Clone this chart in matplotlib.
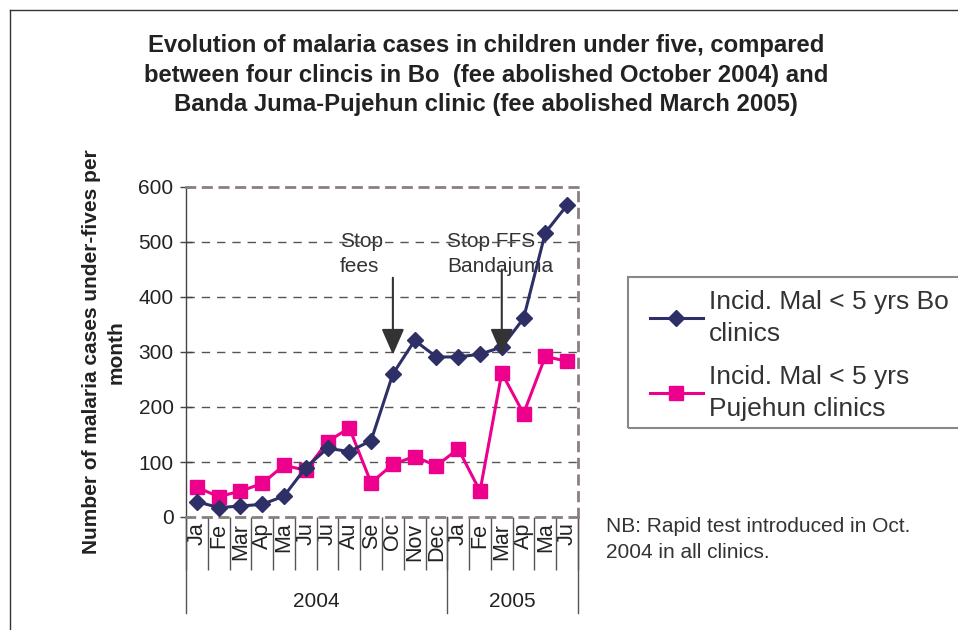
import numpy as np
import matplotlib
matplotlib.use("Agg")
import matplotlib.pyplot as plt
from matplotlib.lines import Line2D
from matplotlib.patches import Rectangle

plt.rcParams['font.family'] = ['Liberation Sans', 'DejaVu Sans']

# データ
months = ["Ja", "Fe", "Mar", "Ap", "Ma", "Ju", "Ju", "Au", "Se", "Oc", "Nov", "Dec",
          "Ja", "Fe", "Mar", "Ap", "Ma", "Ju"]
years = ["2004", "2005"]
year_len = [12, 6]
bo = [28, 17, 20, 23, 38, 90, 125, 119, 139, 260, 321, 291,
      291, 296, 309, 361, 517, 567]
pujehun = [54, 37, 47, 61, 94, 85, 137, 162, 62, 96, 110, 93,
           124, 47, 262, 188, 292, 283]
yticks = [0, 100, 200, 300, 400, 500, 600]

navy = "#2e2f66"
pink = "#ec008c"
border = "#8a7f7b"

fig = plt.figure(figsize=(9.58, 6.30), dpi=100)
ax = fig.add_axes([186/958, 1-517/630, 392/958, 330/630])

x = np.arange(len(months))
ax.plot(x, bo, color=navy, lw=2.2, marker="D", ms=8, zorder=4,
        label="Incid. Mal < 5 yrs Bo\nclinics")
ax.plot(x, pujehun, color=pink, lw=2.2, marker="s", ms=10.5, zorder=3,
        label="Incid. Mal < 5 yrs\nPujehun clinics")

ax.set_xlim(-0.5, len(months) - 0.5)
ax.set_ylim(0, 600)
ax.set_yticks(yticks)
ax.tick_params(axis="y", direction="inout", length=8, width=1, color="#444",
               labelsize=15, pad=5, labelcolor="#222")

# 月ラベル
ax.set_xticks(x)
ax.set_xticklabels(months, rotation=90, fontsize=15.5, color="#222")
ax.tick_params(axis="x", which="major", length=0, pad=4)
ax.set_xticks(np.arange(len(months) + 1) - 0.5, minor=True)
ax.tick_params(axis="x", which="minor", length=38, width=1, color="#555")

# 年の区切り
tr = ax.get_xaxis_transform()
edges = np.concatenate([[0], np.cumsum(year_len)]) - 0.5
for e in edges:
    ax.plot([e, e], [0, -0.29], transform=tr, color="#555", lw=1, clip_on=False)
for i, yr in enumerate(years):
    ax.text((edges[i] + edges[i+1]) / 2, -0.255, yr, transform=tr,
            ha="center", va="center", fontsize=15, color="#222")

# グリッドと枠
for v in yticks[1:-1]:
    ax.axhline(v, color="#555", lw=1, ls=(0, (6, 5)), zorder=1.5)
for s in ["top", "right", "bottom"]:
    ax.spines[s].set_color(border)
    ax.spines[s].set_linewidth(2)
    ax.spines[s].set_linestyle((0, (3, 3)))
ax.spines["left"].set_color("#444")
ax.spines["left"].set_linewidth(1)

# 矢印と注記
arrow = dict(arrowstyle="-|>,head_width=0.35,head_length=0.8",
             mutation_scale=20, color="#333", lw=1.5, shrinkA=0, shrinkB=0)
ax.annotate("", xy=(9, 295), xytext=(9, 435), arrowprops=arrow, zorder=5)
ax.annotate("", xy=(14, 295), xytext=(14, 450), arrowprops=arrow, zorder=5)
ax.text(6.57, 518, "Stop\nfees", fontsize=15, color="#333", va="top",
        ha="left", zorder=1, linespacing=1.4)
ax.text(11.5, 518, "Stop FFS\nBandajuma", fontsize=15, color="#333", va="top",
        ha="left", zorder=1, linespacing=1.4)

# 凡例
fig.add_artist(Rectangle((628/958, 1-428/630), 0.4, 151/630,
                         transform=fig.transFigure, fill=False,
                         edgecolor="#888", lw=1.5))
leg = fig.legend(loc="upper left", bbox_to_anchor=(650/958, 1-290/630),
                 fontsize=19, frameon=False, handlelength=2.0,
                 handletextpad=0.25, borderpad=0, labelspacing=0.75,
                 borderaxespad=0)
for t in leg.get_texts():
    t.set_color("#333")
    t.set_linespacing(1.4)

# タイトル・ラベル
fig.text(486/958, 1-34/630,
         "Evolution of malaria cases in children under five, compared\n"
         "between four clincis in Bo  (fee abolished October 2004) and\n"
         "Banda Juma-Pujehun clinic (fee abolished March 2005)",
         ha="center", va="top", fontsize=17.2, weight="bold", color="#222",
         linespacing=1.37)
fig.text(104/958, 1-352/630, "Number of malaria cases under-fives per\nmonth",
         rotation=90, ha="center", va="center", fontsize=15, weight="bold",
         color="#222", multialignment="center", linespacing=1.35)
fig.text(606/958, 1-517/630, "NB: Rapid test introduced in Oct.\n2004 in all clinics.",
         ha="left", va="top", fontsize=15, color="#333", linespacing=1.5)

# 外枠
fig.add_artist(Line2D([10/958, 10/958], [0, 1-10/630], color="#333", lw=1))
fig.add_artist(Line2D([10/958, 1], [1-10/630, 1-10/630], color="#333", lw=1))

fig.savefig("out.png", dpi=100)
